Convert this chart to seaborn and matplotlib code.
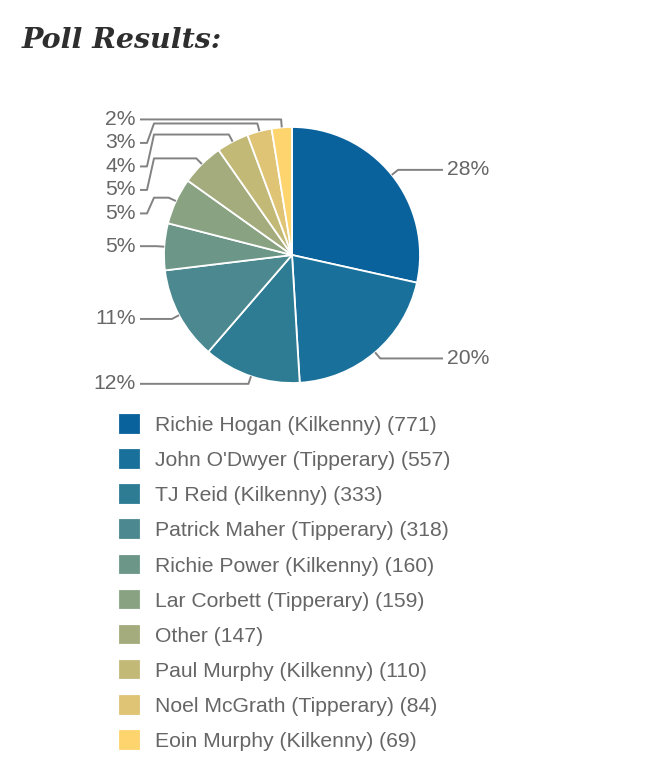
import numpy as np
import matplotlib.pyplot as plt
import seaborn as sns

# Poll data (clockwise from 12 o'clock)
players = ["Richie Hogan (Kilkenny)", "John O'Dwyer (Tipperary)", "TJ Reid (Kilkenny)",
           "Patrick Maher (Tipperary)", "Richie Power (Kilkenny)", "Lar Corbett (Tipperary)",
           "Other", "Paul Murphy (Kilkenny)", "Noel McGrath (Tipperary)", "Eoin Murphy (Kilkenny)"]
votes = [771, 557, 333, 318, 160, 159, 147, 110, 84, 69]
colors = ["#0a629d", "#19709a", "#2e7c94", "#4b8890", "#6b9688",
          "#88a282", "#a4ab7c", "#c2b977", "#dfc475", "#fdd46d"]

W, H = 650, 780
sns.set_theme(style="white")
plt.rcParams['font.family'] = ['Liberation Sans', 'DejaVu Sans']

fig = plt.figure(figsize=(W / 100, H / 100), dpi=100)
ax = fig.add_axes([0, 0, 1, 1])

cx, cy, r = 292, 255, 128
# y axis runs downward (pixel-like), so counterclock in data = clockwise on screen
wedges, _ = ax.pie(votes, colors=colors, startangle=-90, counterclock=True,
                   center=(cx, cy), radius=r,
                   wedgeprops=dict(edgecolor="white", linewidth=1.3))
ax.set_xlim(0, W)
ax.set_ylim(H, 0)
ax.axis('off')

# Percent labels with elbow connectors
total = sum(votes)
text_col = "#666666"
line_col = "#828282"
fs = 15.2
items = {"left": [], "right": []}
for w, v in zip(wedges, votes):
    phi = np.deg2rad((w.theta1 + w.theta2) / 2)
    nx, ny = cx + (r + 8) * np.cos(phi), cy + (r + 8) * np.sin(phi)
    ex, ey = cx + r * np.cos(phi), cy + r * np.sin(phi)
    side = "right" if np.cos(phi) > 0 else "left"
    pct = int(np.floor(v / total * 100))
    items[side].append([ny, nx, ex, ey, pct])

min_gap = 23.5
for side, lst in items.items():
    lst.sort(key=lambda t: t[0])
    prev = -1e9
    for it in lst:
        ny, nx, ex, ey, pct = it
        yl = max(ny, prev + min_gap)
        prev = yl
        if side == "left":
            x0 = cx - r - 24
            xs = [x0, x0 + 7, x0 + 14, nx, ex]
            ax.text(x0 - 4, yl, f"{pct}%", ha="right", va="center",
                    fontsize=fs, color=text_col)
        else:
            x0 = cx + r + 23
            xs = [x0, x0 - 7, x0 - 14, nx, ex]
            ax.text(x0 + 4, yl, f"{pct}%", ha="left", va="center",
                    fontsize=fs, color=text_col)
        ys = [yl, yl, ny, ny, ey]
        ax.plot(xs, ys, color=line_col, lw=1.4, solid_capstyle="butt")

# Title
ax.text(22, 48, "Poll Results:", family=["DejaVu Serif"],
        fontweight="bold", style="italic", fontsize=20.5, color="#2e2e2e",
        va="baseline", ha="left")

# Legend
labels = [f"{p} ({v})" for p, v in zip(players, votes)]
leg = fig.legend(wedges, labels, loc="upper left",
                 bbox_to_anchor=(120 / W, 1 - 415 / H),
                 frameon=False, fontsize=fs, labelcolor=text_col,
                 handlelength=0.9, handleheight=0.9, handletextpad=0.75,
                 labelspacing=0.715, borderpad=0, borderaxespad=0)
for h in leg.legend_handles:
    h.set_edgecolor(h.get_facecolor())

fig.savefig("out.png", dpi=100)
